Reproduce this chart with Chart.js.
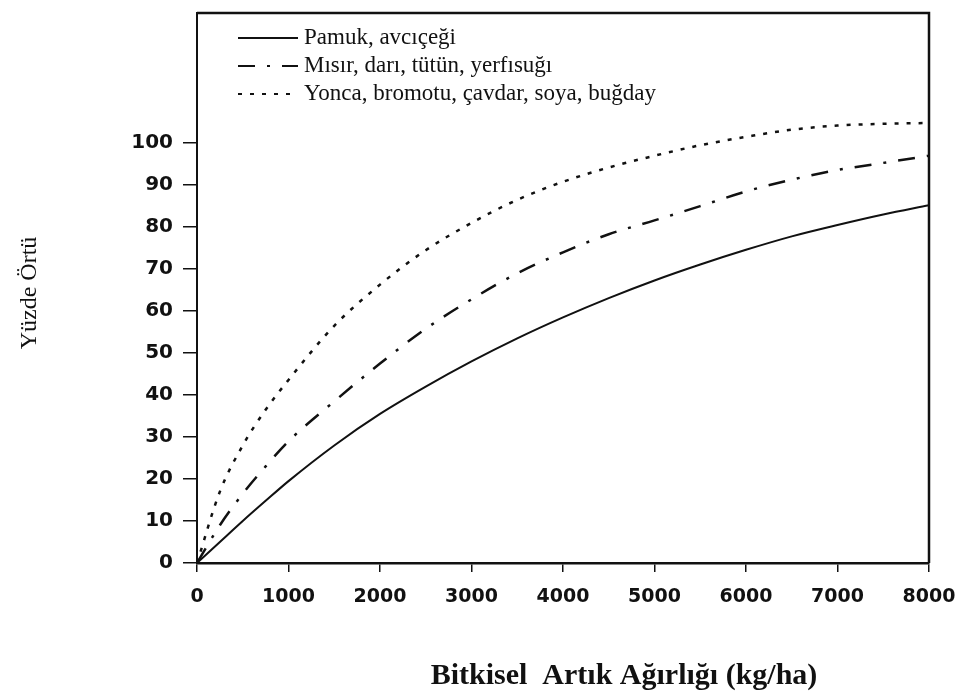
<!DOCTYPE html>
<html>
<head>
<meta charset="utf-8">
<script src="https://cdn.jsdelivr.net/npm/chart.js@4/dist/chart.umd.min.js"></script>
<style>
html,body{margin:0;padding:0;background:#fff;}
#wrap{position:relative;width:956px;height:694px;}
</style>
</head>
<body>
<div id="wrap"><canvas id="coverChart" width="956" height="694"></canvas></div>
<script>
// residue weight (kg/ha) and percent cover
const residueKg = [0, 250, 500, 750, 1000, 1500, 2000, 2500, 3000, 3500, 4000, 4500, 5000, 5500, 6000, 6500, 7000, 7500, 8000];
const pamukCover = [0, 5, 10, 14.8, 19.5, 28, 35.5, 42, 48, 53.5, 58.5, 63.1, 67.3, 71.1, 74.6, 77.8, 80.5, 83, 85.2];
const misirCover = [0, 9, 16.5, 23, 29, 38.5, 47.5, 55.8, 62.8, 69, 74, 78.3, 81.6, 85, 88.5, 91.3, 93.6, 95.3, 97];
const yoncaCover = [0, 17, 28, 36.5, 43.6, 56.5, 66.3, 74.5, 81, 86.5, 90.8, 94.2, 97, 99.5, 101.5, 103.2, 104.2, 104.6, 104.8];
const seriesNames = ['Pamuk, avcıçeği', 'Mısır, darı, tütün, yerfısuğı', 'Yonca, bromotu, çavdar, soya, buğday'];
const xTicks = [0, 1000, 2000, 3000, 4000, 5000, 6000, 7000, 8000];
const yTicks = [0, 10, 20, 30, 40, 50, 60, 70, 80, 90, 100];

const toPoints = (ys) => residueKg.map((x, i) => ({x: x, y: ys[i]}));

const frame = {
    id: 'frame',
    afterDraw(chart) {
        const a = chart.chartArea;
        const ctx = chart.ctx;
        ctx.save();
        ctx.strokeStyle = '#111';
        ctx.lineWidth = 2.5;
        ctx.beginPath();
        ctx.moveTo(a.left, a.top);
        ctx.lineTo(a.right, a.top);
        ctx.lineTo(a.right, a.bottom);
        ctx.stroke();
        ctx.restore();
    }
};

// legend drawn inside the plot, line sample + text, like the scan
const innerLegend = {
    id: 'innerLegend',
    afterDraw(chart) {
        const a = chart.chartArea;
        const ctx = chart.ctx;
        ctx.save();
        ctx.font = '23px "Liberation Serif"';
        ctx.fillStyle = '#111';
        ctx.textBaseline = 'middle';
        chart.data.datasets.forEach((ds, i) => {
            const y = a.top + 25 + i * 28;
            const x0 = a.left + 41;
            ctx.strokeStyle = '#111';
            ctx.lineWidth = 2;
            ctx.setLineDash(ds.borderDash || []);
            ctx.beginPath();
            ctx.moveTo(x0, y);
            ctx.lineTo(x0 + 60, y);
            ctx.stroke();
            ctx.setLineDash([]);
            ctx.fillText(ds.label, x0 + 66, y);
        });
        ctx.restore();
    }
};

const axisTitles = {
    id: 'axisTitles',
    afterDraw(chart) {
        const ctx = chart.ctx;
        ctx.save();
        ctx.fillStyle = '#111';
        ctx.textAlign = 'center';
        ctx.textBaseline = 'middle';
        ctx.font = 'bold 30px "Liberation Serif"';
        ctx.fillText('Bitkisel  Artık Ağırlığı (kg/ha)', 624, 676);
        ctx.translate(30, 293);
        ctx.rotate(-Math.PI / 2);
        ctx.font = '24px "Liberation Serif"';
        ctx.fillText('Yüzde Örtü', 0, 0);
        ctx.restore();
    }
};

new Chart(document.getElementById('coverChart'), {
    type: 'line',
    data: {
        datasets: [{
            label: seriesNames[0],
            data: toPoints(pamukCover),
            borderColor: '#111',
            borderWidth: 2,
            borderDash: []
        }, {
            label: seriesNames[1],
            data: toPoints(misirCover),
            borderColor: '#111',
            borderWidth: 2.5,
            borderDash: [17, 12, 3, 12]
        }, {
            label: seriesNames[2],
            data: toPoints(yoncaCover),
            borderColor: '#111',
            borderWidth: 2.5,
            borderDash: [4, 8]
        }]
    },
    options: {
        responsive: false,
        animation: false,
        devicePixelRatio: 1,
        layout: {padding: {top: 13, right: 27, left: 0, bottom: 0}},
        elements: {
            point: {radius: 0},
            line: {cubicInterpolationMode: 'monotone', fill: false}
        },
        plugins: {legend: {display: false}, tooltip: {enabled: false}},
        scales: {
            x: {
                type: 'linear',
                min: 0,
                max: 8000,
                afterFit: (s) => { s.height = 131; s.paddingLeft = 0; s.paddingRight = 0; },
                afterBuildTicks: (s) => { s.ticks = xTicks.map(v => ({value: v})); },
                border: {display: true, color: '#111', width: 2.5},
                grid: {drawOnChartArea: false, color: '#111', lineWidth: 1.5, tickLength: 9},
                ticks: {
                    color: '#111',
                    padding: 14,
                    maxRotation: 0,
                    autoSkip: false,
                    callback: (v) => String(v),
                    font: {family: '"DejaVu Sans"', size: 19, weight: 'bold'}
                }
            },
            y: {
                min: 0,
                max: 131,
                afterFit: (s) => { s.width = 197; s.paddingTop = 0; s.paddingBottom = 0; },
                afterBuildTicks: (s) => { s.ticks = yTicks.map(v => ({value: v})); },
                border: {display: true, color: '#111', width: 2},
                grid: {drawOnChartArea: false, color: '#111', lineWidth: 1.5, tickLength: 14},
                ticks: {
                    color: '#111',
                    padding: 10,
                    autoSkip: false,
                    callback: (v) => String(v),
                    font: {family: '"DejaVu Sans"', size: 20, weight: 'bold'}
                }
            }
        }
    },
    plugins: [frame, innerLegend, axisTitles]
});
</script>
</body>
</html>
